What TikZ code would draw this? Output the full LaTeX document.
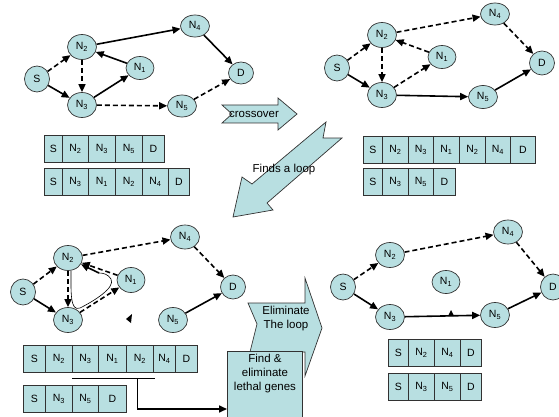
\documentclass[tikz,border=0pt]{standalone}
\usepackage{fontspec}
\setmainfont{Liberation Sans}
\usetikzlibrary{shapes.geometric,arrows.meta}
\definecolor{fillc}{RGB}{184,223,225}
\definecolor{edgec}{RGB}{50,50,50}
\newcommand\Nsub[1]{N\textsubscript{#1}}
\tikzset{
 gnode/.style={ellipse, draw=edgec, line width=0.7pt, fill=fillc, minimum width=29pt, minimum height=25pt, inner sep=0pt, font=\fontsize{10.5}{12}\selectfont},
 sol/.style={line width=1.6pt, -{Triangle[length=8pt,width=7pt]}},
 das/.style={sol, dash pattern=on 5pt off 3pt},
 cell/.style={draw=edgec, line width=0.7pt, fill=fillc, anchor=north west, minimum height=27pt, inner sep=0pt, font=\fontsize{10.5}{12}\selectfont},
 bigarrow/.style={draw=edgec, line width=0.7pt, fill=fillc},
 lbl/.style={font=\fontsize{11.5}{14}\selectfont, align=center, inner sep=0pt},
}
\begin{document}
\begin{tikzpicture}[x=1pt,y=-1pt]
\useasboundingbox (0,0) rectangle (559,417);
\clip (0,0) rectangle (559,417);
% ---------- panel 1 ----------
\node[gnode, minimum width=25pt, minimum height=26pt] (Sa) at (37,79) {S};
\node[gnode] (N2a) at (82,47) {\Nsub{2}};
\node[gnode, minimum width=28pt, minimum height=23pt] (N1a) at (140,68) {\Nsub{1}};
\node[gnode] (N3a) at (82,105) {\Nsub{3}};
\node[gnode, minimum width=29pt, minimum height=22pt] (N4a) at (195,26) {\Nsub{4}};
\node[gnode, minimum width=25pt, minimum height=22pt] (Da) at (241,73) {D};
\node[gnode, minimum width=29pt, minimum height=22pt] (N5a) at (182,106) {\Nsub{5}};
\draw[das] (Sa) -- (N2a);
\draw[sol] (Sa) -- (N3a);
\draw[das] (N2a) -- (N3a);
\draw[sol] (N3a) -- (N1a);
\draw[sol] (N1a) -- (N2a);
\draw[sol] (N2a) -- (N4a);
\draw[sol] (N4a) -- (Da);
\draw[das] (N3a) -- (N5a);
\draw[das] (N5a) -- (Da);
\foreach \x/\w/\t [count=\i] in {44/18/S,62/26/\Nsub{2},88/27/\Nsub{3},115/27/\Nsub{5},142/22/D}
  \node[cell, minimum width=\w pt] (pa\i) at (\x,135) {\t};
\foreach \x/\w/\t [count=\i] in {44/18/S,62/26/\Nsub{3},88/27/\Nsub{1},115/27/\Nsub{2},142/26/\Nsub{4},168/21/D}
  \node[cell, minimum width=\w pt] (pb\i) at (\x,168) {\t};
% ---------- panel 2 ----------
\node[gnode, minimum width=25pt, minimum height=26pt] (Sb) at (337,68) {S};
\node[gnode] (N2b) at (382,35) {\Nsub{2}};
\node[gnode, minimum width=28pt, minimum height=23pt] (N1b) at (442,57) {\Nsub{1}};
\node[gnode] (N3b) at (382,95) {\Nsub{3}};
\node[gnode, minimum width=29pt, minimum height=22pt] (N4b) at (495,14) {\Nsub{4}};
\node[gnode, minimum width=25pt, minimum height=24pt] (Db) at (542,63) {D};
\node[gnode, minimum width=29pt, minimum height=23pt] (N5b) at (483,97) {\Nsub{5}};
\draw[das] (Sb) -- (N2b);
\draw[sol] (Sb) -- (N3b);
\draw[das] (N2b) -- (N3b);
\draw[das] (N3b) -- (N1b);
\draw[das] (N1b) -- (N2b);
\draw[das] (N2b) -- (N4b);
\draw[das] (N4b) -- (Db);
\draw[sol] (N3b) -- (N5b);
\draw[sol] (N5b) -- (Db);
\foreach \x/\w/\t [count=\i] in {363/19/S,382/26/\Nsub{2},408/25/\Nsub{3},433/26/\Nsub{1},459/26/\Nsub{2},485/25/\Nsub{4},510/25/D}
  \node[cell, minimum width=\w pt] (pc\i) at (\x,136) {\t};
\foreach \x/\w/\t [count=\i] in {363/19/S,382/26/\Nsub{3},408/25/\Nsub{5},433/22/D}
  \node[cell, minimum width=\w pt] (pd\i) at (\x,168) {\t};
% ---------- crossover / loop arrows ----------
\path[bigarrow] (222,105) -- (278,105) -- (278,98) -- (297,114) -- (278,130) -- (278,123) -- (222,123) -- (232,114) -- cycle;
\node[lbl] (tcross) at (254,114) {crossover};
\path[bigarrow] (326,122) -- (252,184) -- (242,177) -- (233,217) -- (273,210) -- (267,203) -- (342,138) -- (323,138) -- cycle;
\node[lbl] (tloop) at (284,170) {Finds a loop};
% ---------- panel 3 ----------
\node[gnode, minimum width=25pt, minimum height=26pt] (Sc) at (23,292) {S};
\node[gnode] (N2c) at (68,258) {\Nsub{2}};
\node[gnode, minimum width=28pt, minimum height=25pt] (N1c) at (131,280) {\Nsub{1}};
\node[gnode] (N3c) at (68,320) {\Nsub{3}};
\node[gnode, minimum width=29pt, minimum height=24pt] (N4c) at (185,237) {\Nsub{4}};
\node[gnode, minimum width=25pt, minimum height=24pt] (Dc) at (233,287) {D};
\node[gnode, minimum width=29pt, minimum height=25pt] (N5c) at (173,320) {\Nsub{5}};
\coordinate (lpA) at (71,271);
\coordinate (lpE) at (99,273);
\draw[line width=0.6pt] (lpA) .. controls (71,292) and (70,312) .. (80,308)
  .. controls (92,302) and (116,288) .. (111,279) .. controls (108,274) and (103,273) .. (lpE);
\draw[sol] (lpE) -- (N2c);
\draw[das] (Sc) -- (N2c);
\draw[sol] (Sc) -- (N3c);
\draw[das] (N2c) -- (N3c);
\draw[das] (N3c) -- (N1c);
\draw[das] (N1c) -- (N2c);
\draw[das] (N2c) -- (N4c);
\draw[das] (N4c) -- (Dc);
\draw[sol] (N5c) -- (Dc);
\fill (126,319) -- (132,314) -- (131,323) -- cycle;
\foreach \x/\w/\t [count=\i] in {23/22/S,45/27/\Nsub{2},72/26/\Nsub{3},98/28/\Nsub{1},126/27/\Nsub{2},153/22/\Nsub{4},175/22/D}
  \node[cell, minimum width=\w pt] (pe\i) at (\x,345) {\t};
\foreach \x/\w/\t [count=\i] in {23/22/S,45/27/\Nsub{3},72/26/\Nsub{5},98/28/D}
  \node[cell, minimum width=\w pt] (pf\i) at (\x,385) {\t};
% ---------- eliminate arrow and find box ----------
\path[bigarrow] (248,303) -- (305,303) -- (305,278) -- (322,328) -- (305,376) -- (305,352) -- (250,352) -- (257,324) -- cycle;
\node[lbl] (telim) at (286,319) {Eliminate\\The loop};
\node[draw=edgec, line width=0.7pt, fill=fillc, anchor=north west, minimum width=75pt, minimum height=80pt, inner sep=0pt] (find) at (227,351) {};
\node[lbl, anchor=north] (tfind) at (265,354) {Find \&\\eliminate\\lethal genes};
\coordinate (brL) at (72,378);
\coordinate (brR) at (155,378);
\coordinate (brM) at (137,378);
\coordinate (brC) at (137,409);
\draw[line width=0.6pt] (brL) -- (brR);
\draw[line width=0.6pt] (brM) -- (brC);
\draw[sol] (brC) -- (brC -| find.west);
% ---------- panel 4 ----------
\node[gnode, minimum width=25pt, minimum height=26pt] (Sd) at (343,287) {S};
\node[gnode] (N2d) at (390,255) {\Nsub{2}};
\node[gnode, minimum width=28pt, minimum height=23pt] (N1d) at (446,282) {\Nsub{1}};
\node[gnode] (N3d) at (390,317) {\Nsub{3}};
\node[gnode, minimum width=29pt, minimum height=24pt] (N4d) at (508,232) {\Nsub{4}};
\node[gnode, minimum width=25pt, minimum height=26pt] (Dd) at (553,287) {D};
\node[gnode, minimum width=29pt, minimum height=25pt] (N5d) at (495,315) {\Nsub{5}};
\draw[das] (Sd) -- (N2d);
\draw[sol] (Sd) -- (N3d);
\draw[das] (N2d) -- (N4d);
\draw[das] (N4d) -- (Dd);
\draw[sol] (N3d) -- (N5d);
\draw[sol] (N5d) -- (Dd);
\fill (448,316) -- (451,310) -- (454,316) -- cycle;
\foreach \x/\w/\t [count=\i] in {388/20/S,408/26/\Nsub{2},434/26/\Nsub{4},460/21/D}
  \node[cell, minimum width=\w pt] (pg\i) at (\x,339) {\t};
\foreach \x/\w/\t [count=\i] in {388/20/S,408/26/\Nsub{3},434/26/\Nsub{5},460/21/D}
  \node[cell, minimum width=\w pt] (ph\i) at (\x,373) {\t};
\end{tikzpicture}
\end{document}
